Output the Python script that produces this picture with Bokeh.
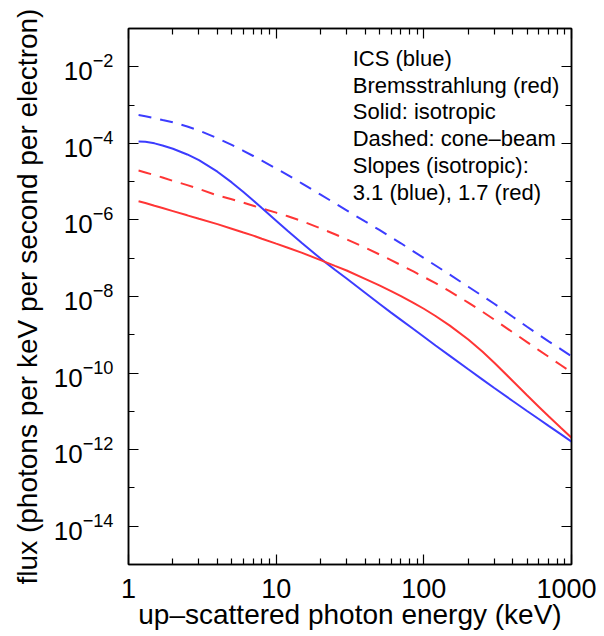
from bokeh.plotting import figure
from bokeh.models import (FixedTicker, LogAxis, LogTickFormatter, PrintfTickFormatter,
                          CustomJSTickFormatter, Label)
from bokeh.embed import file_html
from bokeh.resources import INLINE

# ---------------- data ----------------
energy_keV = [1.17, 1.3, 1.5, 1.7, 2, 2.5, 3, 4, 5, 6, 7, 8, 10, 12, 15, 20, 25, 30, 40, 50,
              60, 70, 85, 100, 120, 150, 200, 250, 300, 400, 500, 600, 700, 850, 1000]

# log10 of flux (photons per keV per second per electron)
ics_isotropic_log = [-3.95, -3.96, -4.00, -4.055, -4.14, -4.29, -4.44, -4.74, -5.02, -5.27,
                     -5.49, -5.69, -6.02, -6.29, -6.61, -7.01, -7.30, -7.53, -7.90, -8.19,
                     -8.42, -8.61, -8.85, -9.05, -9.28, -9.55, -9.90, -10.17, -10.39, -10.73,
                     -10.99, -11.20, -11.38, -11.60, -11.79]
ics_cone_log = [-3.26, -3.29, -3.34, -3.39, -3.45, -3.56, -3.665, -3.865, -4.04, -4.195,
                -4.33, -4.45, -4.66, -4.83, -5.05, -5.34, -5.565, -5.75, -6.04, -6.26,
                -6.45, -6.61, -6.82, -6.995, -7.19, -7.43, -7.745, -7.99, -8.19, -8.53,
                -8.79, -9.00, -9.17, -9.38, -9.56]
brems_isotropic_log = [-5.51, -5.56, -5.63, -5.69, -5.77, -5.88, -5.97, -6.11, -6.23, -6.33,
                       -6.41, -6.49, -6.62, -6.725, -6.86, -7.05, -7.20, -7.32, -7.54, -7.71,
                       -7.86, -7.99, -8.165, -8.32, -8.51, -8.762, -9.125, -9.445, -9.73, -10.205,
                       -10.578, -10.878, -11.13, -11.437, -11.69]
brems_cone_log = [-4.71, -4.76, -4.83, -4.89, -4.98, -5.09, -5.19, -5.36, -5.46, -5.55,
                  -5.63, -5.70, -5.81, -5.905, -6.03, -6.22, -6.375, -6.505, -6.725, -6.90,
                  -7.05, -7.18, -7.345, -7.49, -7.65, -7.865, -8.16, -8.40, -8.605, -8.935,
                  -9.19, -9.40, -9.575, -9.795, -9.98]

x_major_ticks = [1, 10, 100, 1000]
x_minor_ticks = [m * d for d in (1, 10, 100) for m in range(2, 10)]
y_major_exponents = [-14, -12, -10, -8, -6, -4, -2]
y_minor_exponents = [-15, -13, -11, -9, -7, -5, -3, -1]

legend_lines = ["ICS (blue)", "Bremsstrahlung (red)", "Solid: isotropic",
                "Dashed: cone\u2013beam", "Slopes (isotropic):", "3.1 (blue), 1.7 (red)"]

BLUE = "#3c3cff"
RED = "#ff3535"
FONT = "Liberation Sans"

def to_flux(logs):
    return [10.0 ** v for v in logs]

p = figure(width=596, height=634, x_axis_type="log", y_axis_type="log",
           x_range=(1, 1000), y_range=(1e-15, 1e-1),
           output_backend="svg", toolbar_location=None,
           min_border_left=128, min_border_top=28, min_border_right=25, min_border_bottom=70)
p.background_fill_color = "white"
p.border_fill_color = "white"
p.outline_line_color = "black"
p.outline_line_width = 1.5
p.xgrid.visible = False
p.ygrid.visible = False

xt = FixedTicker(ticks=x_major_ticks, minor_ticks=x_minor_ticks)
yt = FixedTicker(ticks=[10.0 ** e for e in y_major_exponents],
                 minor_ticks=[10.0 ** e for e in y_minor_exponents])

def style_axis(ax):
    ax.axis_line_color = "black"
    ax.axis_line_width = 1.5
    ax.major_tick_line_color = "black"
    ax.minor_tick_line_color = "black"
    ax.major_tick_line_width = 1.2
    ax.minor_tick_line_width = 1.2
    ax.major_tick_in = 10
    ax.major_tick_out = 0
    ax.minor_tick_in = 6
    ax.minor_tick_out = 0
    ax.major_label_text_font = FONT
    ax.major_label_text_font_size = "26px"
    ax.major_label_text_color = "black"
    ax.axis_label_text_font = FONT
    ax.axis_label_text_font_size = "28px"
    ax.axis_label_text_font_style = "normal"
    ax.axis_label_text_color = "black"

xa = p.xaxis[0]
xa.ticker = xt
xa.formatter = PrintfTickFormatter(format="%d")
xa.axis_label = "up\u2013scattered photon energy (keV)"
style_axis(xa)
xa.major_label_text_font_size = "27px"
xa.major_label_standoff = 14
xa.axis_label_standoff = -2

ya = p.yaxis[0]
ya.ticker = yt
ya.formatter = LogTickFormatter()
ya.axis_label = "flux (photons per keV per second per electron)"
style_axis(ya)
ya.major_label_standoff = 15
ya.axis_label_standoff = 8

blank = CustomJSTickFormatter(code="return ''")
top = LogAxis(ticker=xt, formatter=blank)
style_axis(top)
top.major_label_text_font_size = "0px"
top.major_label_standoff = 0
p.add_layout(top, "above")
right = LogAxis(ticker=yt, formatter=blank)
style_axis(right)
right.major_label_text_font_size = "0px"
right.major_label_standoff = 0
p.add_layout(right, "right")

p.line(energy_keV, to_flux(ics_cone_log), line_color=BLUE, line_width=2, line_dash="13 9")
p.line(energy_keV, to_flux(brems_cone_log), line_color=RED, line_width=2, line_dash="13 9")
p.line(energy_keV, to_flux(ics_isotropic_log), line_color=BLUE, line_width=2)
p.line(energy_keV, to_flux(brems_isotropic_log), line_color=RED, line_width=2)

for i, txt in enumerate(legend_lines):
    p.add_layout(Label(x=33, y=10.0 ** (-1.78 - 0.70 * i), text=txt,
                       text_font=FONT, text_font_size="22px", text_color="black",
                       text_baseline="middle", text_align="left"))

open("out.html", "w").write(file_html(p, INLINE))
